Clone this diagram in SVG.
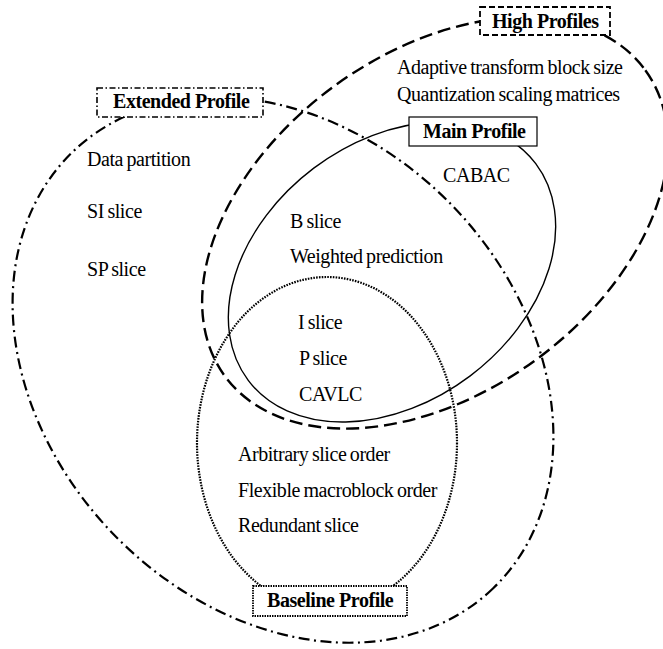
<svg xmlns="http://www.w3.org/2000/svg" width="663" height="649" viewBox="0 0 663 649">
  <style>
    .lbl { font-family: "Liberation Serif", "Times New Roman", serif; font-size: 20px; font-weight: bold; letter-spacing: -0.45px; fill: #000; }
    .item { font-family: "Liberation Serif", "Times New Roman", serif; font-size: 20px; letter-spacing: -0.45px; word-spacing: -1px; fill: #000; }
    .set { fill: none; stroke: #000; }
    .box { fill: #fff; stroke: #000; }
  </style>
  <rect x="0" y="0" width="663" height="649" fill="#fff"/>

  <!-- Extended profile set -->
  <g id="extended">
    <ellipse class="set" cx="283" cy="370" rx="303" ry="236" transform="rotate(46 283 370)" stroke-width="2.2" stroke-dasharray="11 4.5 2 4.5"/>
  </g>

  <!-- High profiles set -->
  <g id="high">
    <ellipse class="set" cx="435" cy="223" rx="260" ry="170" transform="rotate(-36 435 223)" stroke-width="2.4" stroke-dasharray="13 6"/>
  </g>

  <!-- Main profile set -->
  <g id="main">
    <ellipse class="set" cx="392" cy="272" rx="180" ry="130" transform="rotate(-37 392 272)" stroke-width="1.4"/>
  </g>

  <!-- Baseline profile set -->
  <g id="baseline">
    <ellipse class="set" cx="327" cy="443" rx="130" ry="166" stroke-width="2.2" stroke-dasharray="1.6 1.2"/>
  </g>

  <!-- Set labels -->
  <g id="extended-label">
    <rect class="box" x="97" y="88" width="166" height="29" stroke-width="1.6" stroke-dasharray="6 2.5 1.5 2.5"/>
    <text class="lbl" x="113" y="108">Extended Profile</text>
  </g>
  <g id="high-label">
    <rect class="box" x="480" y="7" width="130" height="28" stroke-width="1.8" stroke-dasharray="6 3"/>
    <text class="lbl" x="492" y="28">High Profiles</text>
  </g>
  <g id="main-label">
    <rect class="box" x="409" y="117" width="128" height="29" stroke-width="1.2"/>
    <text class="lbl" x="423" y="138">Main Profile</text>
  </g>
  <g id="baseline-label">
    <rect class="box" x="253" y="586" width="154" height="30" stroke-width="1.8" stroke-dasharray="1.5 1"/>
    <text class="lbl" x="267" y="607">Baseline Profile</text>
  </g>

  <!-- Feature lists -->
  <g id="features">
    <text class="item" x="397" y="74">Adaptive transform block size</text>
    <text class="item" x="397" y="101">Quantization scaling matrices</text>
    <text class="item" x="443" y="182">CABAC</text>
    <text class="item" x="87" y="166">Data partition</text>
    <text class="item" x="87" y="218">SI slice</text>
    <text class="item" x="87" y="276">SP slice</text>
    <text class="item" x="290" y="228">B slice</text>
    <text class="item" x="290" y="263">Weighted prediction</text>
    <text class="item" x="298" y="329">I slice</text>
    <text class="item" x="299" y="365">P slice</text>
    <text class="item" x="299" y="401">CAVLC</text>
    <text class="item" x="238" y="461">Arbitrary slice order</text>
    <text class="item" x="238" y="497">Flexible macroblock order</text>
    <text class="item" x="238" y="532">Redundant slice</text>
  </g>
</svg>
